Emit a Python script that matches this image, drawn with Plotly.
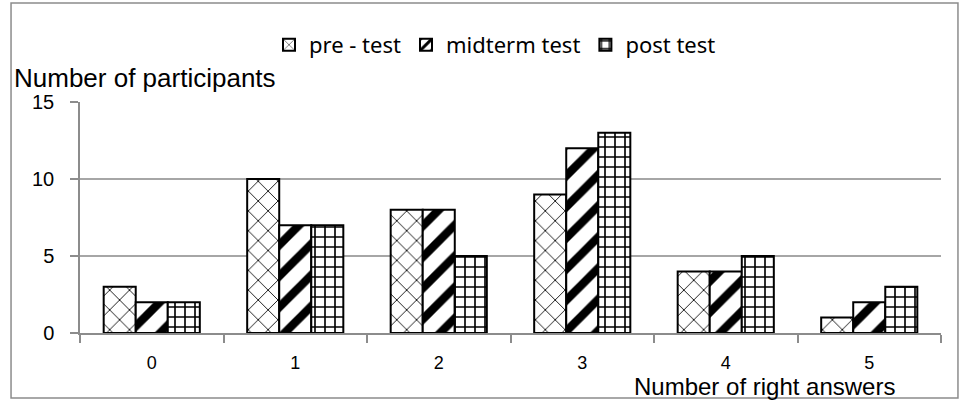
import plotly.graph_objects as go

categories = ["0", "1", "2", "3", "4", "5"]
pre_test = [3, 10, 8, 9, 4, 1]
midterm_test = [2, 7, 8, 12, 4, 2]
post_test = [2, 7, 5, 13, 5, 3]
series_names = ["pre - test", "midterm test", "post test"]
y_ticks = [0, 5, 10, 15]

patterns = [
    dict(shape="x", size=14, solidity=0.12, fgcolor="black", bgcolor="white", fgopacity=1, fillmode="replace"),
    dict(shape="/", size=22, solidity=0.38, fgcolor="black", bgcolor="white", fgopacity=1, fillmode="replace"),
    dict(shape="+", size=10, solidity=0.3, fgcolor="black", bgcolor="white", fgopacity=1, fillmode="replace"),
]

fig = go.Figure()
for name, vals, pat in zip(series_names, [pre_test, midterm_test, post_test], patterns):
    fig.add_trace(go.Bar(
        x=categories, y=vals, name=name,
        marker=dict(color="white", pattern=pat, line=dict(color="black", width=2)),
    ))

fig.update_layout(
    width=960, height=400,
    margin=dict(l=80, r=19, t=102, b=67),
    paper_bgcolor="white", plot_bgcolor="white",
    barmode="group", bargap=0.33, bargroupgap=0,
    font=dict(family="Liberation Sans, Arial", size=19, color="black"),
    showlegend=True,
    legend=dict(orientation="h", x=0.482, y=1.247, xanchor="center", yanchor="middle",
                font=dict(family="Noto Sans", size=22), itemwidth=30,
                bgcolor="rgba(0,0,0,0)"),
    xaxis=dict(showline=True, linecolor="#8c8c8c", linewidth=1.5,
               ticks="outside", ticklen=8, tickcolor="#8c8c8c", tickwidth=1.5,
               tickson="boundaries", ticklabelstandoff=13, showgrid=False,
               tickfont=dict(size=18)),
    yaxis=dict(range=[0, 15], tickvals=y_ticks, showline=True, linecolor="#8c8c8c",
               linewidth=1.5, ticks="outside", ticklen=8, tickcolor="#8c8c8c",
               tickwidth=1.5, showgrid=True, gridcolor="#a6a6a6", gridwidth=1.5,
               zeroline=False, ticklabelstandoff=12, tickfont=dict(size=20)),
    annotations=[
        dict(text="Number of participants", xref="paper", yref="paper",
             x=-0.079, y=1.104, xanchor="left", yanchor="middle", showarrow=False,
             font=dict(size=26)),
        dict(text="Number of right answers", xref="paper", yref="paper",
             x=0.795, y=-0.232, xanchor="center", yanchor="middle", showarrow=False,
             font=dict(size=24)),
    ],
    shapes=[
        dict(type="rect", xref="paper", yref="paper", x0=-0.0801, x1=1.0197,
             y0=-0.281, y1=1.4286, line=dict(color="#8c8c8c", width=1.5)),
    ],
)

fig.write_html("out.html", config={"displayModeBar": False},
               post_script="document.body.style.margin='0';")
